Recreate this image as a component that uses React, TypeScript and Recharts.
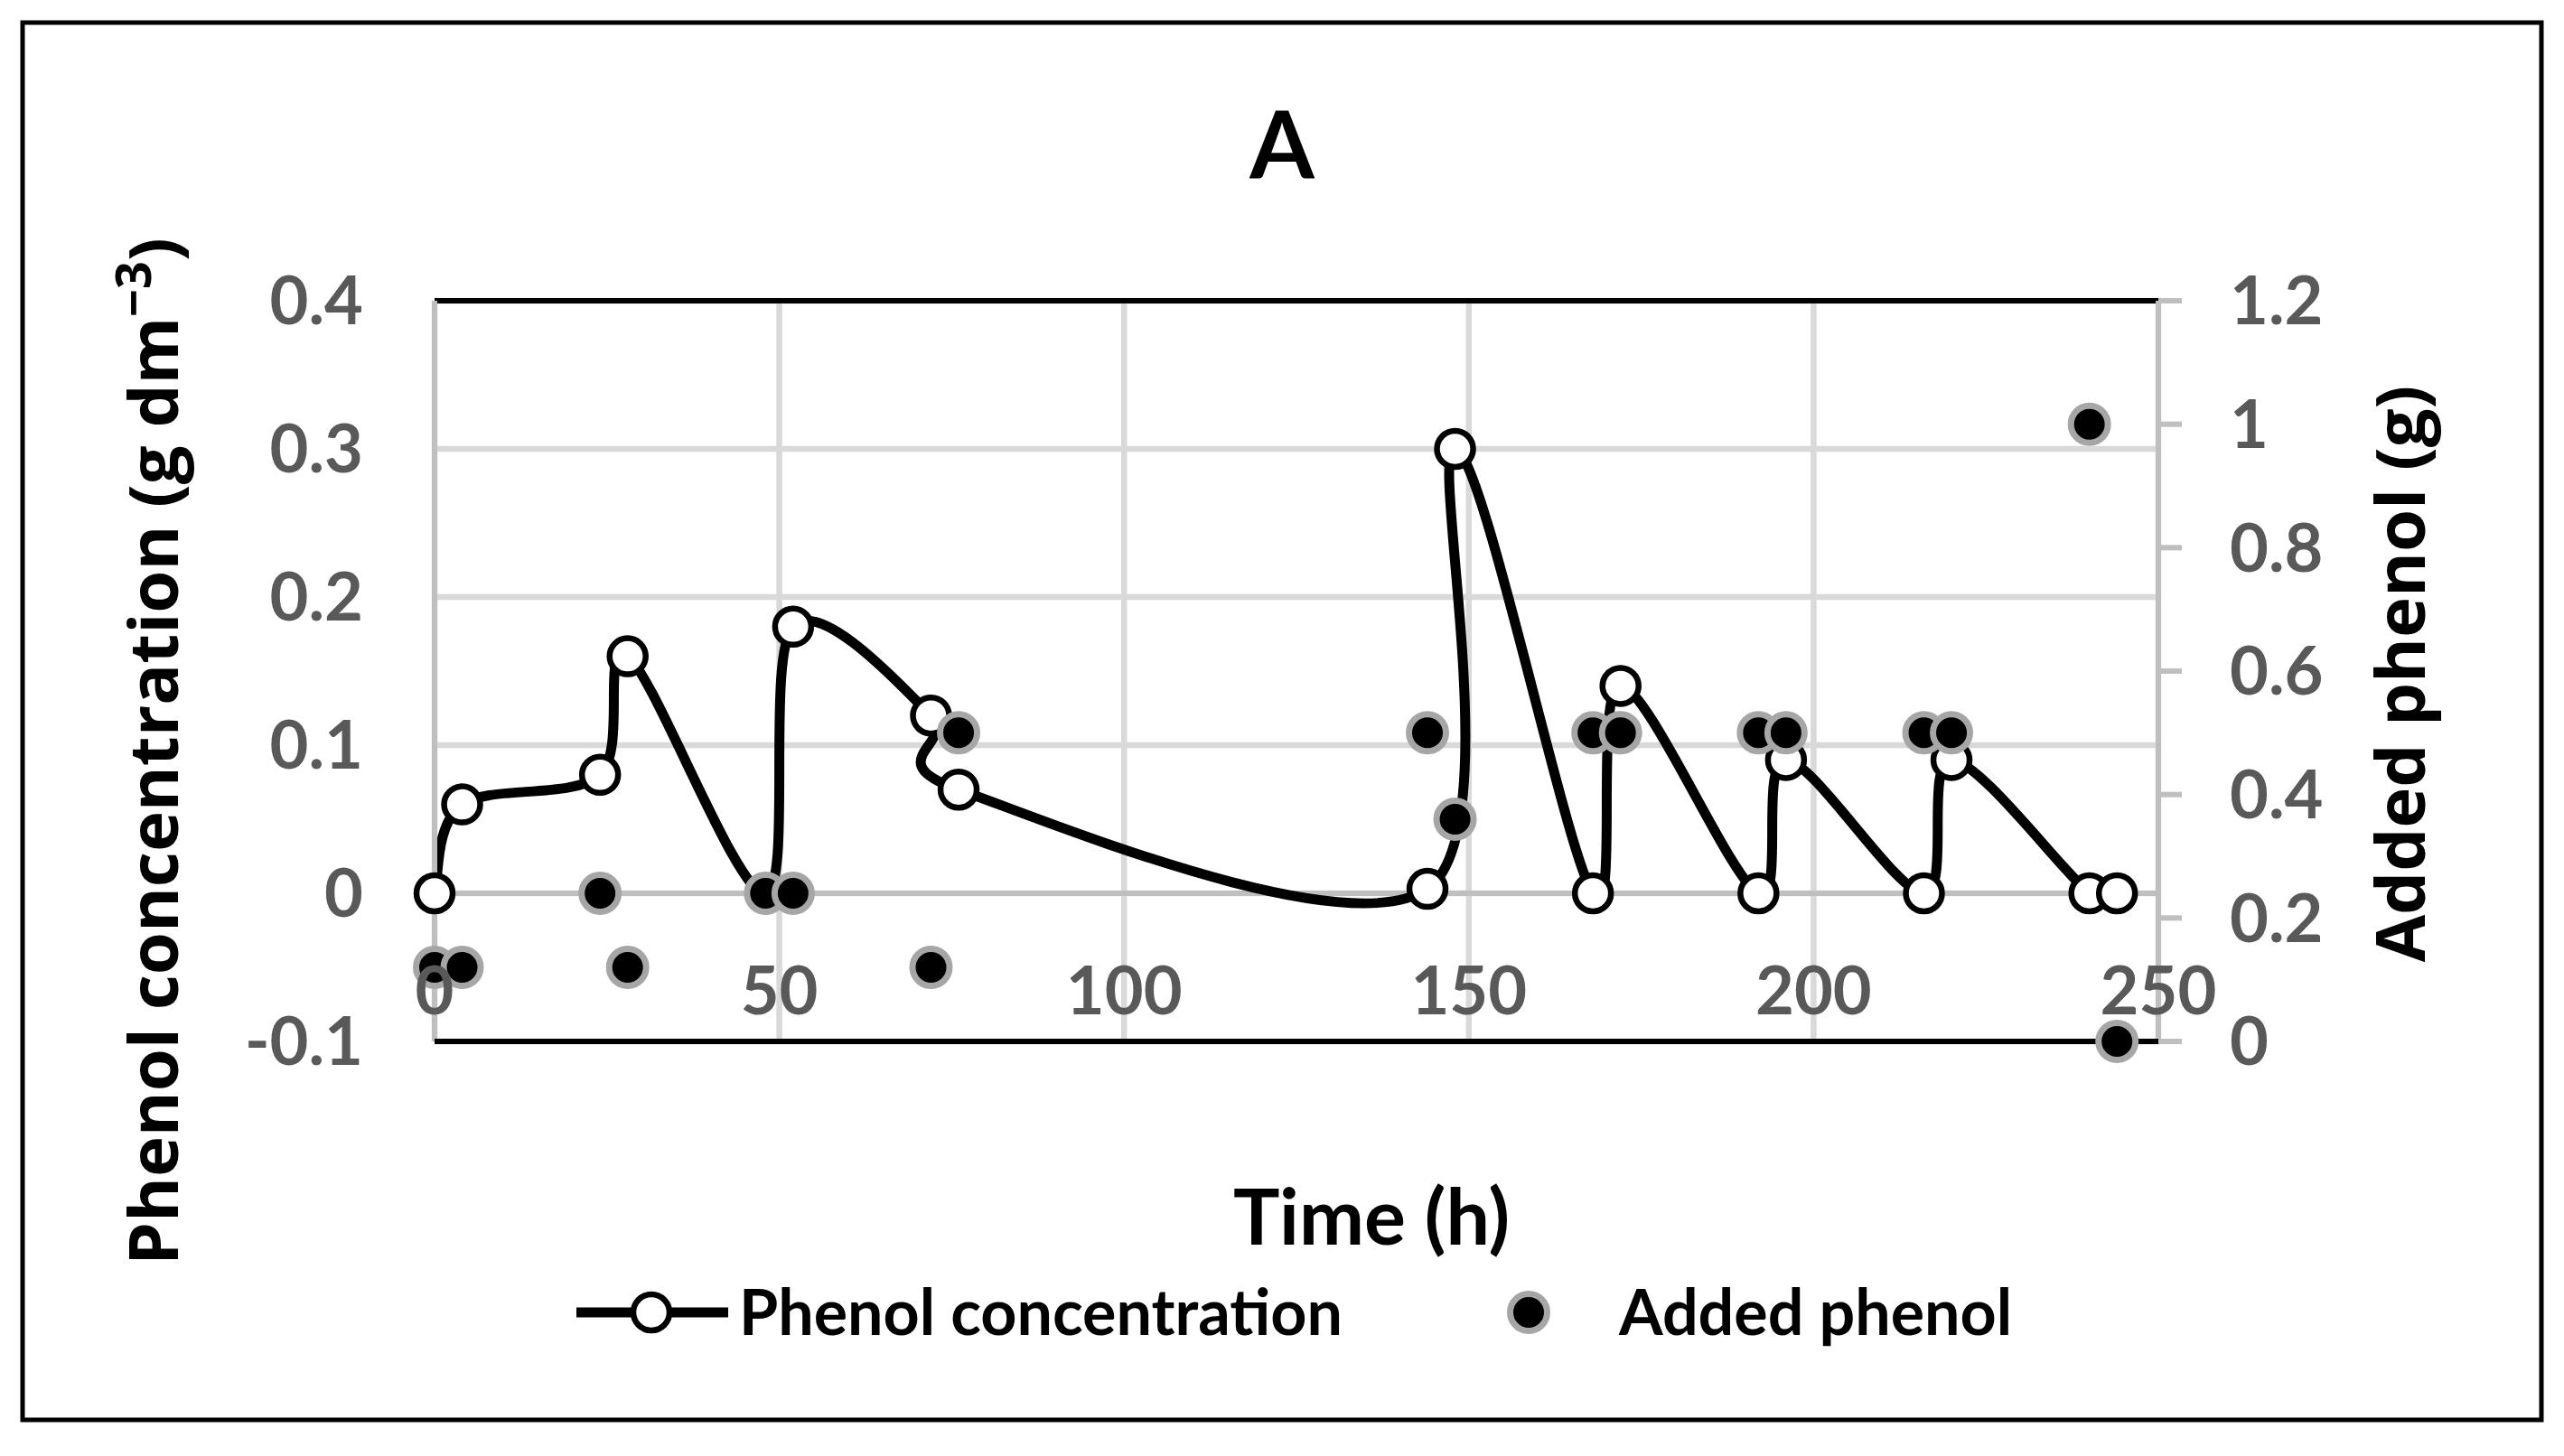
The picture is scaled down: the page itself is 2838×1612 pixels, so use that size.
import React from 'react';
import {
  ComposedChart, Line, Scatter, XAxis, YAxis, CartesianGrid, ReferenceLine,
} from 'recharts';

// ---- data ----
const concTime = [0, 4, 24, 28, 48, 52, 72, 76, 144, 148, 168, 172, 192, 196, 216, 220, 240, 244];
const concValues = [0, 0.06, 0.08, 0.16, 0, 0.18, 0.12, 0.07, 0.003, 0.3, 0, 0.14, 0, 0.09, 0, 0.09, 0, 0];

const addedTime = [0, 4, 24, 28, 48, 52, 72, 76, 144, 148, 168, 172, 192, 196, 216, 220, 240, 244];
const addedValues = [0.12, 0.12, 0.24, 0.12, 0.24, 0.24, 0.12, 0.5, 0.5, 0.36, 0.5, 0.5, 0.5, 0.5, 0.5, 0.5, 1.0, 0];

const xTicks = [0, 50, 100, 150, 200, 250];
const leftTicks = [-0.1, 0, 0.1, 0.2, 0.3, 0.4];
const rightTicks = [0, 0.2, 0.4, 0.6, 0.8, 1, 1.2];

const concData = concTime.map((t, i) => ({ t, v: concValues[i] }));
const addedData = addedTime.map((t, i) => ({ t, g: addedValues[i] }));

// Excel-like smoothed line (Catmull-Rom style Bezier, 1/6 tension)
function excelCurve(context: any) {
  let pts: number[][] = [];
  return {
    areaStart() {},
    areaEnd() {},
    lineStart() { pts = []; },
    point(x: number, y: number) { pts.push([+x, +y]); },
    lineEnd() {
      const n = pts.length;
      if (!n) return;
      context.moveTo(pts[0][0], pts[0][1]);
      const k = 1 / 6;
      for (let i = 0; i < n - 1; i++) {
        const p0 = pts[Math.max(0, i - 1)];
        const p1 = pts[i];
        const p2 = pts[i + 1];
        const p3 = pts[Math.min(n - 1, i + 2)];
        context.bezierCurveTo(
          p1[0] + (p2[0] - p0[0]) * k, p1[1] + (p2[1] - p0[1]) * k,
          p2[0] - (p3[0] - p1[0]) * k, p2[1] - (p3[1] - p1[1]) * k,
          p2[0], p2[1],
        );
      }
    },
  };
}

const W = 2838;
const H = 1612;
const TICK_FONT = { fill: '#595959', fontSize: 74, fontFamily: 'Lato, sans-serif', fontWeight: 700 };

const XTick = (props: any) => (
  <text
    x={props.x}
    y={props.y}
    dy={-30}
    textAnchor="middle"
    fill="#595959"
    fontSize={74}
    fontFamily="Lato, sans-serif"
    fontWeight={700}
  >
    {props.payload.value}
  </text>
);

const AddedDot = (props: any) => (
  <circle cx={props.cx} cy={props.cy} r={20.5} fill="#000" stroke="#A6A6A6" strokeWidth={7} />
);

export default function App() {
  return (
    <div style={{ position: 'absolute', left: 0, top: 0, width: W, height: H, background: '#fff' }}>
      <ComposedChart width={W} height={H} margin={{ top: 333, right: 0, bottom: 0, left: 0 }}>
        <CartesianGrid yAxisId="left" stroke="#D9D9D9" strokeWidth={6.5} />
        <ReferenceLine yAxisId="left" y={0} stroke="#BFBFBF" strokeWidth={6} />
        <ReferenceLine yAxisId="left" y={0.4} stroke="#000" strokeWidth={6} />
        <YAxis
          yAxisId="left"
          type="number"
          domain={[-0.1, 0.4]}
          ticks={leftTicks}
          width={481}
          axisLine={{ stroke: '#BFBFBF', strokeWidth: 6 }}
          tickLine={false}
          tickSize={0}
          tickMargin={79}
          tick={TICK_FONT}
          interval={0}
        />
        <YAxis
          yAxisId="right"
          orientation="right"
          type="number"
          domain={[0, 1.2]}
          ticks={rightTicks}
          width={449}
          axisLine={{ stroke: '#BFBFBF', strokeWidth: 6 }}
          tickLine={{ stroke: '#BFBFBF', strokeWidth: 6 }}
          tickSize={26}
          tickMargin={53}
          tick={TICK_FONT}
          interval={0}
        />
        <Line
          yAxisId="left"
          data={concData}
          dataKey="v"
          type={excelCurve as any}
          stroke="#000"
          strokeWidth={11}
          dot={{ r: 20, fill: '#fff', stroke: '#000', strokeWidth: 6.5 }}
          activeDot={false}
          isAnimationActive={false}
        />
        <Scatter
          yAxisId="right"
          data={addedData}
          dataKey="g"
          shape={AddedDot}
          isAnimationActive={false}
        />
        <XAxis
          type="number"
          dataKey="t"
          domain={[0, 250]}
          ticks={xTicks}
          height={459}
          axisLine={{ stroke: '#000', strokeWidth: 6 }}
          tickLine={false}
          tickSize={0}
          tickMargin={0}
          tick={XTick}
          interval={0}
          allowDuplicatedCategory={false}
        />
      </ComposedChart>
      <svg
        width={W}
        height={H}
        style={{ position: 'absolute', left: 0, top: 0, pointerEvents: 'none' }}
      >
        <rect x={25} y={25} width={2788} height={1547} fill="none" stroke="#000" strokeWidth={5} />
        <text x={1419} y={197} textAnchor="middle" fontSize={103} fontFamily="Lato, sans-serif" fontWeight={700} fill="#000">A</text>
        <text
          x={197}
          y={832}
          transform="rotate(-90, 197, 832)"
          textAnchor="middle"
          fontSize={76}
          fontFamily="'Open Sans', sans-serif"
          fontWeight={700}
          fill="#000"
        >
          Phenol concentration (g dm<tspan fontSize={54} dy={-30}>−3</tspan><tspan dy={30}>)</tspan>
        </text>
        <text
          x={2684}
          y={746}
          transform="rotate(-90, 2684, 746)"
          textAnchor="middle"
          fontSize={76}
          fontFamily="'Open Sans', sans-serif"
          fontWeight={700}
          fill="#000"
        >
          Added phenol (g)
        </text>
        <text x={1518} y={1378} textAnchor="middle" fontSize={86} fontFamily="Lato, sans-serif" fontWeight={700} fill="#000">Time (h)</text>
        <line x1={638} y1={1453} x2={806} y2={1453} stroke="#000" strokeWidth={11} />
        <circle cx={721} cy={1453} r={20} fill="#fff" stroke="#000" strokeWidth={6.5} />
        <text x={818} y={1478} fontSize={70} fontFamily="Lato, sans-serif" fontWeight={700} fill="#000">Phenol concentration</text>
        <circle cx={1692} cy={1453} r={20.5} fill="#000" stroke="#A6A6A6" strokeWidth={7} />
        <text x={1792} y={1478} fontSize={70} fontFamily="Lato, sans-serif" fontWeight={700} fill="#000">Added phenol</text>
      </svg>
    </div>
  );
}
